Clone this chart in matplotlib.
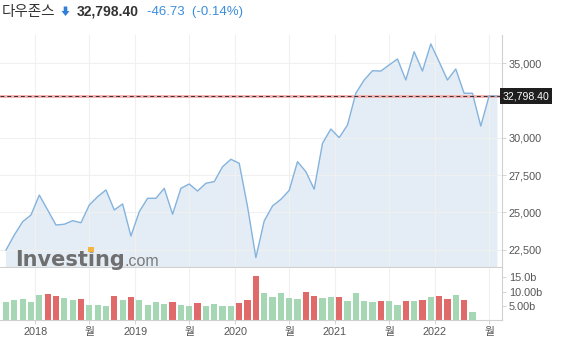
import matplotlib
matplotlib.use('Agg')
import matplotlib.pyplot as plt
from matplotlib.patches import FancyArrow, Rectangle
import numpy as np

plt.rcParams['font.family'] = ['Liberation Sans', 'Noto Sans CJK KR', 'DejaVu Sans']

# monthly closes, Sep 2017 .. Aug 2022
price = [22470, 23480, 24370, 24820, 26160, 25160, 24150, 24200, 24440, 24300,
         25490, 26050, 26500, 25160, 25560, 23410, 25040, 25940, 25940, 26610,
         24870, 26610, 26900, 26430, 26950, 27060, 28060, 28560, 28290, 25380,
         21960, 24420, 25430, 25870, 26470, 28400, 27730, 26550, 29630, 30590,
         30010, 30860, 32990, 33880, 34500, 34480, 34890, 35290, 33880, 35780,
         34480, 36300, 35110, 33880, 34620, 32990, 32990, 30790, 32810, 32798.40]
last_price = 32798.40

# monthly volume in billions, Sep 2017 .. May 2022
volume = [6.2, 7.1, 7.4, 6.2, 8.9, 9.2, 8.5, 7.9, 7.1, 7.4,
          5.3, 5.3, 5.0, 8.3, 7.1, 8.0, 7.1, 5.3, 6.3, 5.8,
          6.5, 5.4, 5.0, 6.0, 5.0, 5.6, 4.8, 5.0, 6.0, 7.1,
          15.5, 9.5, 8.0, 9.5, 7.9, 7.3, 10.0, 8.3, 7.7, 8.0,
          8.0, 6.6, 9.5, 6.7, 6.2, 6.7, 6.7, 5.3, 6.7, 6.7,
          7.1, 8.2, 8.6, 7.4, 8.9, 7.1, 2.9]
direction = list("uuuuudduud" "uuududuuuu" "duuduuuudd" "duuuuudduu" "duuuuduudu" "duddudu")

tick_pos = [3.5, 10, 15.5, 22, 27.5, 34, 39.5, 46, 51.5, 58]
tick_labels = ['2018', '월', '2019', '월', '2020', '월', '2021', '월', '2022', '월']
price_ticks = [22500, 25000, 27500, 30000, 35000]
vol_ticks = [5, 10, 15]
vol_labels = ['5.00b', '10.00b', '15.0b']

W, H = 567, 354
fig = plt.figure(figsize=(W / 100, H / 100), dpi=100)

ax = fig.add_axes([0, (H - 267) / H, 502 / W, (267 - 35) / H])
axv = fig.add_axes([0, (H - 320) / H, 502 / W, (320 - 268) / H])

x = np.arange(len(price))
xv = np.arange(len(volume))
xlim = (-0.72, 59.55)

# price panel
ax.fill_between(x, price, 0, color='#e4edf5', lw=0, zorder=1)
ax.plot(x, price, color='#84b3dd', lw=1.0, zorder=3)
ax.axhline(last_price, color='#f6b3b3', lw=2.2, zorder=2)
ax.axhline(last_price, color='#333333', lw=0.7, ls=(0, (4, 3)), zorder=4)
ax.set_xlim(*xlim)
ax.set_ylim(21330, 36900)
ax.set_yticks(price_ticks)
ax.set_yticklabels([f'{t:,}' for t in price_ticks])
ax.set_xticks(tick_pos)
ax.tick_params(axis='x', length=0, labelbottom=False)
ax.yaxis.tick_right()
ax.tick_params(axis='y', length=3, width=0.6, color='#cccccc', pad=2,
               labelsize=7.8, labelcolor='#555555')
ax.grid(True, color='#f0f0f0', lw=0.8, zorder=0)
for s in ['top', 'left']:
    ax.spines[s].set_visible(False)
for s in ['bottom', 'right']:
    ax.spines[s].set_color('#d0d0d0')
    ax.spines[s].set_linewidth(0.8)
ax.text(1.001, last_price, f'{last_price:,.2f}', transform=ax.get_yaxis_transform(),
        ha='left', va='center', fontsize=7.6, color='white', zorder=10, clip_on=False,
        bbox=dict(boxstyle='square,pad=0.25', fc='#1e1e1e', ec='none'))

# volume panel
bar_colors = ['#a5d7b4' if d == 'u' else '#e06a6a' for d in direction]
axv.bar(xv, volume, width=0.74, color=bar_colors, edgecolor='none', zorder=2)
axv.set_xlim(*xlim)
axv.set_ylim(0, 18.3)
axv.set_yticks(vol_ticks)
axv.set_yticklabels(vol_labels)
axv.yaxis.tick_right()
axv.tick_params(axis='y', length=3, width=0.6, color='#cccccc', pad=2,
                labelsize=7.8, labelcolor='#555555')
axv.set_xticks(tick_pos)
axv.set_xticklabels(tick_labels)
axv.tick_params(axis='x', length=3, width=0.6, color='#cccccc', pad=2,
                labelsize=7.8, labelcolor='#555555')
axv.grid(True, axis='x', color='#f0f0f0', lw=0.8, zorder=0)
for s in ['top', 'left']:
    axv.spines[s].set_visible(False)
for s in ['bottom', 'right']:
    axv.spines[s].set_color('#d0d0d0')
    axv.spines[s].set_linewidth(0.8)

# watermark
fig.text(15 / W, (H - 266) / H, 'Investing', family='DejaVu Sans', weight='bold',
         fontsize=15, color='#6f6f6f', va='baseline', ha='left', zorder=20)
fig.text(124 / W, (H - 266) / H, '.com', fontsize=11.5, color='#7a7a7a',
         va='baseline', ha='left', zorder=20)
fig.patches.append(Rectangle((87.8, H - 252.3), 6.2, 5.3, transform=None,
                             fc='#f5b53c', ec='none', zorder=21))

# header
hy = (H - 12) / H
fig.text(2 / W, hy, '다우존스', family=['Noto Sans CJK KR'], fontsize=10.5,
         color='#333333', va='center', ha='left')
fig.patches.append(FancyArrow(65.5, H - 6.5, 0, -9.5, width=3.6, head_width=8,
                              head_length=5, length_includes_head=True,
                              transform=None, fc='#2f7fd8', ec='none'))
fig.text(77 / W, hy, '32,798.40', fontsize=10, weight='bold', color='#333333',
         va='center', ha='left')
fig.text(147 / W, hy, '-46.73  (-0.14%)', fontsize=9.5, color='#3b8ddb',
         va='center', ha='left')

fig.savefig('out.png', dpi=100)
